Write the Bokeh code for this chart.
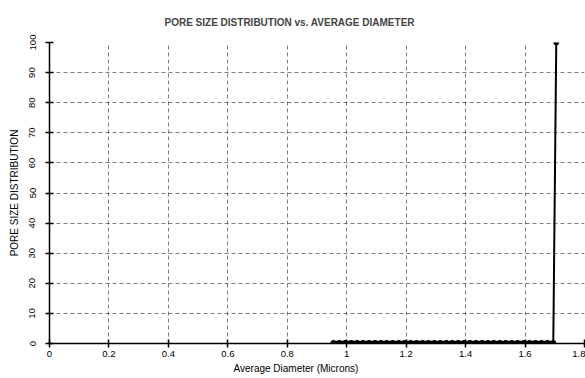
from bokeh.plotting import figure
from bokeh.models import FixedTicker, Range1d, Title
from bokeh.embed import file_html
from bokeh.resources import INLINE

# Data
diameter = [0.955, 0.975, 0.995, 1.015, 1.035, 1.055, 1.075, 1.095, 1.115, 1.135,
            1.155, 1.175, 1.195, 1.215, 1.235, 1.255, 1.275, 1.295, 1.315, 1.335,
            1.355, 1.375, 1.395, 1.415, 1.435, 1.455, 1.475, 1.495, 1.515, 1.535,
            1.555, 1.575, 1.595, 1.615, 1.635, 1.655, 1.675, 1.695, 1.705]
distribution = [0.2, 0.2, 0.2, 0.2, 0.2, 0.2, 0.2, 0.2, 0.2, 0.2,
                0.2, 0.2, 0.2, 0.2, 0.2, 0.2, 0.2, 0.2, 0.2, 0.2,
                0.2, 0.2, 0.2, 0.2, 0.2, 0.2, 0.2, 0.2, 0.2, 0.2,
                0.2, 0.2, 0.2, 0.2, 0.2, 0.2, 0.2, 0.2, 100]

x_ticks = [0, 0.2, 0.4, 0.6, 0.8, 1, 1.2, 1.4, 1.6, 1.8]
x_tick_labels = ["0", "0.2", "0.4", "0.6", "0.8", "1", "1.2", "1.4", "1.6", "1.8"]
y_ticks = [0, 10, 20, 30, 40, 50, 60, 70, 80, 90, 100]

FONT = "Liberation Sans"

p = figure(width=585, height=378, output_backend="svg", toolbar_location=None,
           x_range=Range1d(0, 1.8), y_range=Range1d(0, 100),
           title="PORE SIZE DISTRIBUTION vs. AVERAGE DIAMETER",
           min_border_left=49, min_border_right=1, min_border_top=42, min_border_bottom=35)
p.outline_line_color = None
p.background_fill_color = "white"

p.title.text_font = FONT
p.title.text_font_size = "10px"
p.title.text_font_style = "bold"
p.title.align = "left"
p.title.offset = 115
p.title.standoff = 29

p.xaxis.ticker = FixedTicker(ticks=x_ticks)
p.xaxis.major_label_overrides = {t: l for t, l in zip(x_ticks, x_tick_labels)}
p.yaxis.ticker = FixedTicker(ticks=y_ticks)
p.yaxis.major_label_orientation = "vertical"

for ax in (p.xaxis[0], p.yaxis[0]):
    ax.axis_line_color = "black"
    ax.axis_line_width = 1.5
    ax.major_tick_line_color = "black"
    ax.major_tick_line_width = 1.5
    ax.major_tick_in = 4
    ax.major_tick_out = 4
    ax.minor_tick_line_color = None
    ax.major_label_text_font = FONT
    ax.major_label_text_font_size = "9.5px"
    ax.major_label_text_color = "black"
    ax.axis_label_text_font = FONT
    ax.axis_label_text_font_style = "normal"
    ax.axis_label_text_color = "black"

p.xaxis.major_label_standoff = 3
x_label = Title(text="Average Diameter (Microns)", align="left", offset=184,
                standoff=2, text_font=FONT, text_font_size="10px",
                text_font_style="normal", text_color="black")
p.add_layout(x_label, "below")

p.yaxis.axis_label = "PORE SIZE DISTRIBUTION"
p.yaxis.axis_label_text_font_size = "10px"
p.yaxis.major_label_standoff = 10
p.yaxis.axis_label_standoff = 7

for g in (p.xgrid[0], p.ygrid[0]):
    g.grid_line_color = "black"
    g.grid_line_alpha = 0.5
    g.grid_line_width = 1
    g.grid_line_dash = "4 3"

# dense run of points along the baseline (drawn heavy), then the final rise (thin)
p.line(diameter[:-1], distribution[:-1], line_color="black", line_width=4.5)
p.line(diameter[-2:], distribution[-2:], line_color="black", line_width=2)
p.scatter(diameter, distribution, size=5, color="black")

open("out.html", "w").write(file_html(p, INLINE))
